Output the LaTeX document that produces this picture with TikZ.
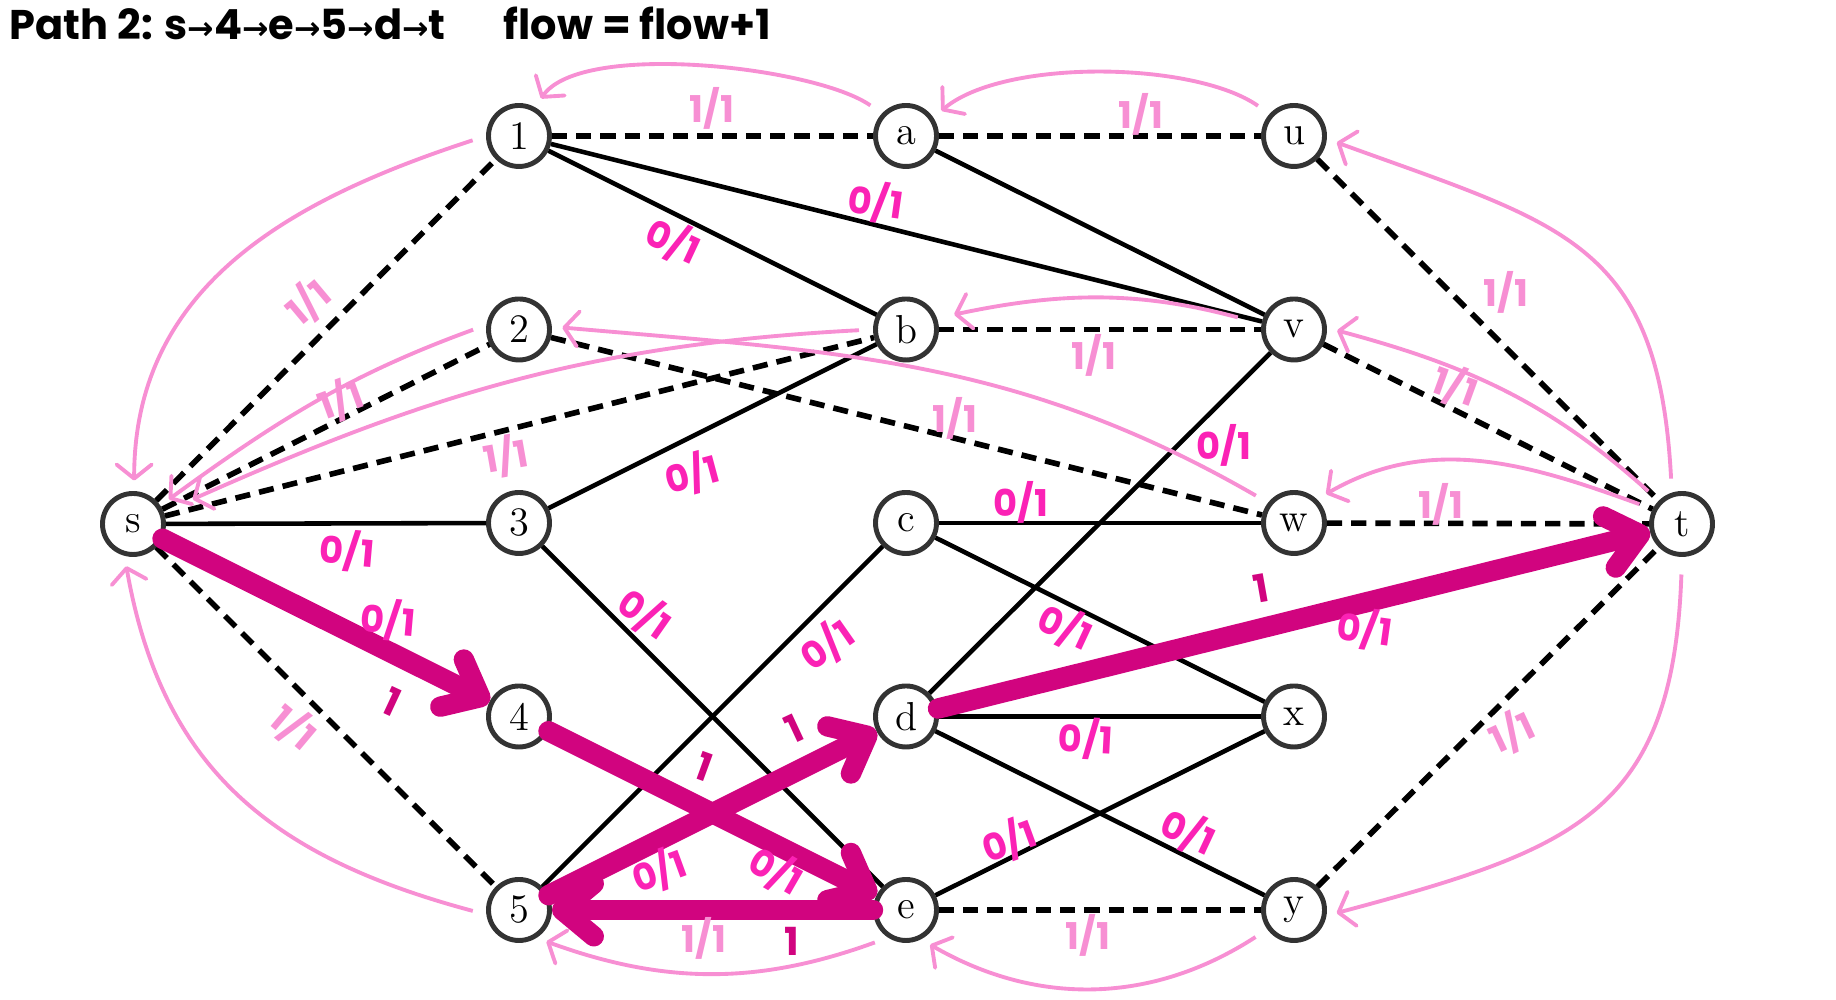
\documentclass[tikz,border=0pt]{standalone}
\usepackage{fontspec}
\usepackage{xcolor}
\usepackage{tikz}
\usetikzlibrary{arrows.meta}
\newfontfamily\hand{Poppins}
\newfontfamily\handsym{DejaVu Sans}
\definecolor{flowpink}{HTML}{F78FD3}
\definecolor{zeropink}{HTML}{FB22B5}
\definecolor{augpink}{HTML}{D1047F}
\colorlet{nodegray}{black!80}
\newcommand\ar{{\handsym\bfseries\small →}}
\tikzstyle{vertex}=[circle,draw=nodegray,line width=1.4pt,fill=white,minimum size=.61cm,inner sep=0pt,font=\fontsize{11.5}{14}\selectfont]
\tikzstyle{openedge}=[line width=1.3pt]
\tikzstyle{fulledge}=[line width=1.6pt,dash pattern=on 4.3pt off 2.6pt]
\tikzstyle{back}=[line width=1.1pt,flowpink,-{Straight Barb[round,length=4pt,width=10pt]},shorten <=4pt,shorten >=3pt]
\tikzstyle{augment}=[line width=5.8pt,augpink,line cap=round,-{Straight Barb[round,length=9pt,width=15pt]}]
\tikzstyle{zerolab}=[inner sep=0pt,text=zeropink,font=\hand\bfseries\fontsize{10.5}{12}\selectfont]
\tikzstyle{onelab}=[inner sep=0pt,text=flowpink,font=\hand\bfseries\fontsize{10.5}{12}\selectfont]
\tikzstyle{inclab}=[inner sep=0pt,text=augpink,font=\hand\bfseries\fontsize{11}{12}\selectfont]
\begin{document}
\begin{tikzpicture}
	\useasboundingbox (0,0) rectangle (18.36,10);
	\node[anchor=base west,inner sep=0pt,font=\hand\bfseries\fontsize{11.8}{13}\selectfont] (title) at (0.09,9.6)
	  {Path 2: s\ar4\ar e\ar5\ar d\ar t\hspace{1.4em}flow = flow+1};
	% vertices
	\node[vertex] (s) at (1.33,4.76) {s};
	\node[vertex] (t) at (16.82,4.76) {t};
	\foreach \a [count=\r from 0] in {1,2,3,4,5}
	  \node[vertex] (n\a) at (5.19,{8.64-1.935*\r}) {\a};
	\foreach \a [count=\r from 0] in {a,b,c,d,e}
	  \node[vertex] (\a) at (9.06,{8.64-1.935*\r}) {\a};
	\foreach \a [count=\r from 0] in {u,v,w,x,y}
	  \node[vertex] (\a) at (12.94,{8.64-1.935*\r}) {\a};
	% edges
	\foreach \p/\q in {s/n3,n1/b,n1/v,a/v,n3/b,n3/e,n5/c,c/w,c/x,d/v,d/x,d/y,e/x}
	  \draw[openedge] (\p) -- (\q);
	\foreach \p/\q in {s/n1,s/n2,s/b,s/n5,n1/a,a/u,u/t,b/v,n2/w,v/t,w/t,e/y,y/t}
	  \draw[fulledge] (\p) -- (\q);
	% residual arcs
	\draw[back] (a.137) to[out=145,in=55,looseness=.6] (n1.61);
	\draw[back] (u.138) to[out=145,in=40,looseness=.7] (a.34);
	\draw[back] (n1.180) to[out=198,in=90,looseness=1.05] (s.88);
	\draw[back] (n2.172) to[out=200,in=36] (s.34);
	\draw[back,shorten >=9pt] (b.180) to[out=183,in=24] (s.21);
	\draw[back,shorten <=7pt,shorten >=5pt] (v.170) to[out=165,in=12] (b.20);
	\draw[back] (w.142) to[out=150,in=355] (n2.5);
	\draw[back] (t.108) to[out=93,in=340,looseness=1.3] (u.-5);
	\draw[back] (t.135) to[out=138,in=345] (v.3);
	\draw[back] (t.153) to[out=160,in=30] (w.46);
	\draw[back,shorten <=5pt] (t.270) to[out=268,in=15,looseness=1.3] (y.-10);
	\draw[back] (n5.188) to[out=165,in=280,looseness=1.1] (s.255);
	\draw[back] (e.237) to[out=200,in=340] (n5.-58);
	\draw[back] (y.216) to[out=213,in=330] (e.-63);
	% augmenting path
	\draw[augment] (s) -- (n4);
	\draw[augment] (n4) -- (e);
	\draw[augment] (e) -- (n5);
	\draw[augment] (n5) -- (d);
	\draw[augment] (d) -- (t);
	% flow labels
	\foreach \p/\r [count=\i] in {(7.12,8.92)/0,(11.41,8.86)/0,(3.08,6.98)/40,(3.41,6.0)/20,(5.06,5.44)/10,
	    (10.94,6.45)/0,(9.55,5.82)/0,(15.06,7.08)/0,(14.55,6.14)/-20,(14.41,4.96)/0,(15.12,2.68)/25,
	    (2.94,2.73)/-40,(7.04,0.62)/0,(10.88,0.65)/0}
	  \node[onelab,rotate=\r] (one\i) at \p {1/1};
	\foreach \p/\r [count=\i] in {(8.76,7.98)/-8,(6.73,7.59)/-25,(6.92,5.26)/15,(3.47,4.49)/-5,(3.88,3.80)/-5,
	    (6.45,3.86)/-35,(8.27,3.55)/35,(10.21,4.98)/0,(12.24,5.55)/0,(10.65,3.73)/-25,(13.65,3.71)/-8,
	    (10.86,2.61)/-3,(10.09,1.59)/20,(11.88,1.68)/-25,(6.59,1.29)/20,(7.76,1.29)/-30}
	  \node[zerolab,rotate=\r] (zero\i) at \p {0/1};
	\foreach \p/\r [count=\i] in {(3.92,2.98)/-25,(7.04,2.33)/-20,(7.94,2.71)/25,(7.92,0.59)/0,(12.61,4.12)/10}
	  \node[inclab,rotate=\r] (inc\i) at \p {1};
\end{tikzpicture}
\end{document}
